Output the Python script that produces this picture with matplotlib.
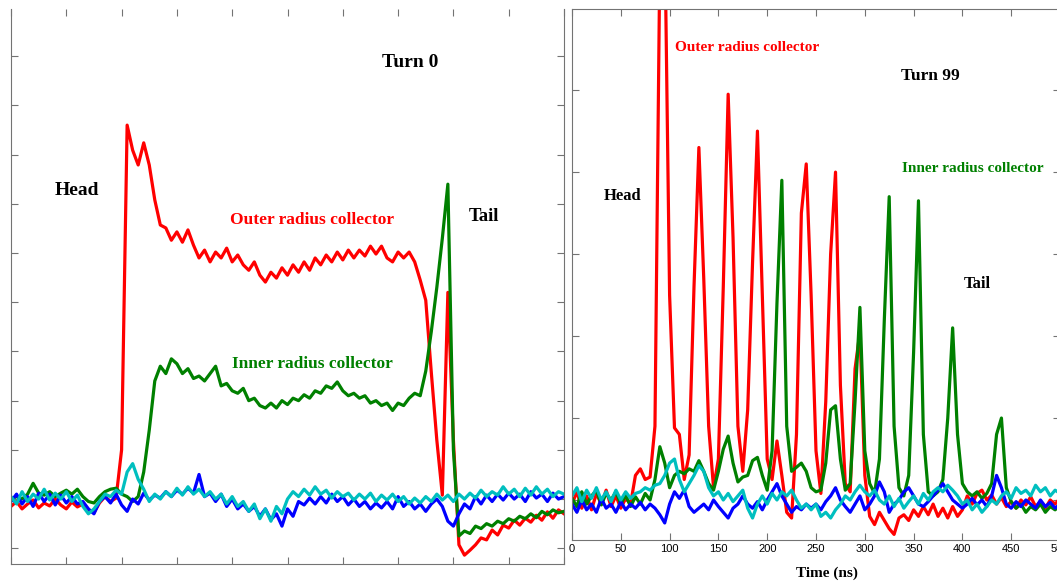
import matplotlib
matplotlib.use("Agg")
import matplotlib.pyplot as plt

# sample times (ns), same grid for both panels
time_ns = list(range(0, 505, 5))

# Turn 0 traces (arbitrary signal units, baseline = 0)
turn0_outer = [
    -0.15, -0.05, -0.2, -0.1, -0.02, -0.18, -0.08, -0.14, 0.0, -0.12,
    -0.2, -0.06, -0.16, -0.1, -0.22, -0.28, -0.08, 0.05, -0.05, 0.02,
    1.0, 7.6, 7.09, 6.79, 7.24, 6.79, 6.08, 5.57, 5.51, 5.26,
    5.43, 5.22, 5.47, 5.16, 4.9, 5.06, 4.82, 5.02, 4.9, 5.1,
    4.82, 4.96, 4.76, 4.65, 4.82, 4.55, 4.41, 4.61, 4.49, 4.7,
    4.55, 4.76, 4.61, 4.82, 4.65, 4.9, 4.76, 4.96, 4.82, 5.02,
    4.86, 5.06, 4.9, 5.06, 4.94, 5.14, 4.98, 5.14, 4.9, 4.82,
    5.02, 4.9, 5.02, 4.82, 4.45, 4.04, 2.58, 1.2, 0.08, 4.2,
    1.2, -0.93, -1.14, -1.04, -0.93, -0.79, -0.83, -0.63, -0.73, -0.53,
    -0.59, -0.43, -0.53, -0.39, -0.47, -0.33, -0.43, -0.26, -0.39, -0.22,
    -0.3,
]
turn0_inner = [
    0.0, 0.05, 0.0, 0.1, 0.32, 0.12, 0.08, 0.15, 0.05, 0.12,
    0.18, 0.1, 0.2, 0.05, -0.05, -0.08, 0.05, 0.15, 0.2, 0.22,
    0.1, 0.05, -0.05, 0.05, 0.55, 1.4, 2.4, 2.7, 2.55, 2.85,
    2.75, 2.55, 2.65, 2.45, 2.5, 2.4, 2.55, 2.7, 2.3, 2.35,
    2.2, 2.15, 2.25, 2.0, 2.05, 1.9, 1.85, 1.95, 1.85, 2.0,
    1.92, 2.05, 2.0, 2.12, 2.05, 2.2, 2.15, 2.3, 2.25, 2.38,
    2.2, 2.1, 2.15, 2.05, 2.1, 1.95, 2.0, 1.9, 1.95, 1.8,
    1.95, 1.9, 2.05, 2.15, 2.1, 2.6, 3.4, 4.3, 5.3, 6.4,
    1.0, -0.75, -0.65, -0.7, -0.55, -0.6, -0.5, -0.55, -0.45, -0.5,
    -0.4, -0.45, -0.35, -0.4, -0.3, -0.38, -0.25, -0.32, -0.22, -0.28,
    -0.25,
]
turn0_blue = [
    -0.05, 0.1, -0.1, 0.05, -0.15, 0.12, -0.05, 0.1, -0.12, 0.08,
    -0.08, 0.05, -0.1, -0.05, -0.2, -0.3, -0.05, 0.05, -0.08, 0.1,
    -0.12, -0.25, 0.0, -0.1, 0.12, -0.02, 0.08, 0.02, 0.15, 0.05,
    0.18, 0.1, 0.22, 0.12, 0.5, 0.05, 0.12, -0.05, 0.1, -0.15,
    0.0, -0.2, -0.1, -0.25, -0.15, -0.35, -0.2, -0.42, -0.3, -0.55,
    -0.2, -0.35, -0.05, -0.12, 0.02, -0.1, 0.05, -0.08, 0.1, -0.05,
    0.05, -0.12, 0.0, -0.15, -0.05, -0.2, -0.08, -0.18, -0.05, -0.2,
    0.05, -0.15, -0.05, -0.2, -0.1, -0.25, -0.1, 0.0, -0.15, -0.45,
    -0.55, -0.3, -0.1, -0.2, 0.05, -0.1, 0.08, -0.05, 0.1, -0.02,
    0.12, 0.0, 0.1, -0.05, 0.15, 0.02, 0.1, -0.05, 0.12, 0.0,
    0.05,
]
turn0_cyan = [
    0.05, -0.1, 0.15, -0.05, 0.1, 0.0, 0.2, -0.02, 0.12, 0.0,
    0.15, -0.05, 0.08, -0.15, -0.3, -0.2, -0.05, 0.1, 0.05, 0.18,
    0.1, 0.55, 0.72, 0.4, 0.2, -0.05, 0.1, 0.0, 0.15, 0.05,
    0.22, 0.08, 0.25, 0.1, 0.2, 0.05, 0.15, 0.0, 0.1, -0.1,
    0.05, -0.15, -0.05, -0.25, -0.1, -0.4, -0.2, -0.45, -0.15, -0.3,
    0.0, 0.15, 0.05, 0.2, 0.08, 0.25, 0.1, 0.18, 0.02, 0.15,
    0.05, 0.12, -0.02, 0.1, 0.0, 0.12, -0.05, 0.08, -0.02, 0.1,
    -0.05, 0.05, -0.1, 0.02, -0.08, 0.05, -0.05, 0.1, -0.02, 0.08,
    -0.05, 0.1, 0.0, 0.12, 0.02, 0.18, 0.05, 0.15, 0.08, 0.25,
    0.1, 0.2, 0.05, 0.22, 0.08, 0.25, 0.1, 0.2, 0.05, 0.15,
    0.1,
]

# Turn 99 traces
turn99_outer = [
    -0.05, 0.1, -0.1, 0.05, -0.12, 0.08, -0.05, 0.12, -0.08, 0.05,
    -0.1, 0.02, -0.05, 0.3, 0.38, 0.25, 0.28, 0.9, 6.6, 7.0,
    2.5, 0.88, 0.8, 0.25, 0.55, 2.6, 4.3, 2.7, 0.9, 0.15,
    0.5, 2.6, 4.95, 3.2, 0.9, 0.35, 1.1, 2.9, 4.5, 2.5,
    0.5, 0.25, 0.72, 0.3, -0.15, -0.22, 0.8, 3.5, 4.1, 2.5,
    0.6, 0.08, 1.2, 3.0, 4.0, 1.4, 0.2, 0.1, 1.6, 2.05,
    0.3, -0.2, -0.3, -0.15, -0.25, -0.35, -0.42, -0.22, -0.18, -0.25,
    -0.12, -0.2, -0.08, -0.18, -0.05, -0.2, -0.1, -0.22, -0.08, -0.2,
    -0.12, 0.05, -0.05, 0.08, 0.12, 0.0, 0.06, -0.05, 0.03, -0.08,
    -0.02, -0.1, 0.0, -0.06, 0.04, -0.08, -0.02, -0.1, 0.0, -0.05,
    0.02,
]
turn99_inner = [
    0.02, -0.08, 0.1, -0.05, 0.05, 0.12, -0.06, 0.08, 0.0, 0.1,
    -0.05, 0.06, -0.08, 0.04, -0.05, 0.08, 0.0, 0.25, 0.65, 0.45,
    0.15, 0.3, 0.35, 0.32, 0.38, 0.35, 0.48, 0.35, 0.2, 0.12,
    0.35, 0.62, 0.78, 0.45, 0.22, 0.28, 0.3, 0.48, 0.52, 0.3,
    0.12, 0.6, 2.4, 3.9, 0.9, 0.35, 0.4, 0.45, 0.35, 0.15,
    0.1, 0.12, 0.45, 1.1, 1.15, 0.5, 0.12, 0.2, 1.2, 2.35,
    0.6, 0.2, 0.08, 0.5, 2.2, 3.7, 0.9, 0.15, 0.05, 0.3,
    1.8, 3.65, 0.8, 0.1, 0.05, 0.1, 0.25, 1.0, 2.1, 0.8,
    0.2, 0.1, 0.05, 0.1, 0.02, 0.08, 0.2, 0.8, 1.0, 0.15,
    -0.02, -0.1, -0.05, -0.15, -0.08, -0.12, -0.05, -0.15, -0.08, -0.12,
    -0.06,
]
turn99_blue = [
    -0.05, -0.15, 0.0, -0.12, -0.05, -0.15, 0.02, -0.1, -0.05, -0.15,
    -0.02, -0.12, -0.05, -0.1, -0.03, -0.12, -0.05, -0.1, -0.18, -0.28,
    -0.05, 0.1, 0.02, 0.12, -0.08, -0.15, -0.1, -0.05, -0.12, 0.0,
    -0.08, -0.15, -0.22, -0.1, -0.05, 0.05, -0.05, -0.1, -0.02, -0.12,
    0.0, 0.1, 0.2, 0.05, -0.05, -0.15, -0.08, -0.12, -0.05, -0.1,
    -0.05, -0.12, -0.02, 0.05, 0.15, 0.0, -0.08, -0.15, -0.05, 0.05,
    -0.12, -0.05, 0.05, 0.22, 0.1, -0.15, -0.05, 0.0, 0.1, 0.15,
    0.05, -0.05, -0.08, -0.02, 0.05, 0.12, 0.2, 0.1, 0.0, -0.05,
    -0.1, -0.05, 0.02, -0.06, 0.0, -0.08, 0.05, 0.3, 0.15, -0.05,
    -0.1, -0.02, -0.08, 0.0, -0.05, -0.1, 0.0, -0.08, -0.03, -0.1,
    -0.05,
]
turn99_cyan = [
    0.05, 0.15, -0.02, 0.12, 0.02, 0.15, 0.0, 0.1, -0.02, 0.12,
    0.0, 0.1, 0.02, 0.08, 0.1, 0.15, 0.12, 0.18, 0.2, 0.3,
    0.45, 0.5, 0.25, 0.1, 0.2, 0.3, 0.42, 0.35, 0.15, 0.05,
    0.1, 0.0, 0.08, -0.02, 0.05, 0.12, -0.1, -0.22, -0.05, 0.05,
    -0.05, 0.08, 0.0, 0.1, 0.05, 0.12, 0.0, -0.1, -0.05, -0.12,
    -0.05, -0.2, -0.15, -0.22, -0.12, -0.05, 0.05, 0.0, 0.1, 0.18,
    0.1, 0.05, 0.12, 0.0, -0.05, 0.05, -0.08, 0.02, -0.1, -0.02,
    0.05, -0.05, 0.08, 0.0, 0.1, 0.15, 0.1, 0.18, 0.12, 0.05,
    -0.05, 0.0, -0.12, -0.05, -0.15, -0.08, 0.0, -0.05, 0.05, 0.1,
    0.02, 0.15, 0.08, 0.12, 0.05, 0.18, 0.1, 0.15, 0.05, 0.12,
    0.08,
]

trace_colors = ['r', 'g', 'b', 'c']
SERIF = 'Liberation Serif'
SPINE = '0.45'
LW = 2.3

fig = plt.figure(figsize=(10.57, 5.83), dpi=100)

# left panel: turn 0 (no tick labels)
ax1 = fig.add_axes([11 / 1057, 19 / 583, 553 / 1057, 555 / 583])
for ys, c in zip([turn0_outer, turn0_inner, turn0_blue, turn0_cyan], trace_colors):
    ax1.plot(time_ns, ys, color=c, linewidth=LW)
ax1.set_xlim(0, 500)
ax1.set_ylim(-1.32, 9.96)
ax1.set_xticks(range(0, 501, 50))
ax1.set_yticks(range(-1, 10))
ax1.tick_params(direction='in', length=5, width=0.8, color=SPINE,
                top=True, right=True, labelbottom=False, labelleft=False)
ax1.spines['top'].set_visible(False)
for side in ['left', 'right', 'bottom']:
    ax1.spines[side].set_color(SPINE)

ax1.text(360.8, 8.88, 'Turn 0', fontsize=14, fontweight='bold', family=SERIF,
         ha='center', va='center')
ax1.text(59.7, 6.28, 'Head', fontsize=14, fontweight='bold', family=SERIF,
         ha='center', va='center')
ax1.text(427.7, 5.75, 'Tail', fontsize=13.5, fontweight='bold', family=SERIF,
         ha='center', va='center')
ax1.text(272.6, 5.67, 'Outer radius collector', fontsize=12.5, fontweight='bold',
         family=SERIF, color='r', ha='center', va='center')
ax1.text(272.2, 2.74, 'Inner radius collector', fontsize=12.5, fontweight='bold',
         family=SERIF, color='g', ha='center', va='center')

# right panel: turn 99
ax2 = fig.add_axes([572 / 1057, 43 / 583, 488 / 1057, 531 / 583])
for ys, c in zip([turn99_outer, turn99_inner, turn99_blue, turn99_cyan], trace_colors):
    ax2.plot(time_ns, ys, color=c, linewidth=LW)
ax2.set_xlim(0, 500)
ax2.set_ylim(-0.488, 5.99)
ax2.set_xticks(range(0, 501, 50))
ax2.set_yticks(range(0, 6))
ax2.tick_params(direction='in', length=5, width=0.8, color=SPINE,
                top=True, right=True, labelleft=False, labelsize=8, pad=3)
for lab in ax2.get_xticklabels():
    lab.set_family('Liberation Sans')
for side in ax2.spines:
    ax2.spines[side].set_color(SPINE)
ax2.set_xlabel('Time (ns)', fontsize=11, fontweight='bold', family=SERIF)
ax2.xaxis.set_label_coords(0.5225, -0.05)

ax2.text(366.8, 5.17, 'Turn 99', fontsize=12.5, fontweight='bold', family=SERIF,
         ha='center', va='center')
ax2.text(52.3, 3.71, 'Head', fontsize=12, fontweight='bold', family=SERIF,
         ha='center', va='center')
ax2.text(415, 2.63, 'Tail', fontsize=12, fontweight='bold', family=SERIF,
         ha='center', va='center')
ax2.text(179.3, 5.52, 'Outer radius collector', fontsize=11, fontweight='bold',
         family=SERIF, color='r', ha='center', va='center')
ax2.text(410.3, 4.04, 'Inner radius collector', fontsize=11, fontweight='bold',
         family=SERIF, color='g', ha='center', va='center')

fig.savefig('out.png', dpi=100)
